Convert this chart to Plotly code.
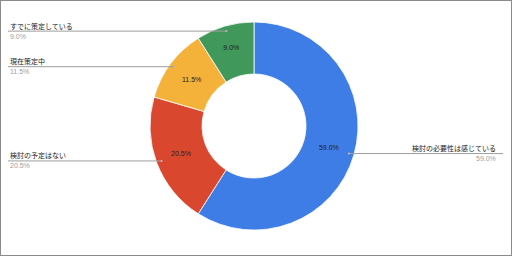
import math
import plotly.graph_objects as go

labels = ["検討の必要性は感じている", "検討の予定はない", "現在策定中", "すでに策定している"]
values = [59.0, 20.5, 11.5, 9.0]
colors = ["#3f7de6", "#d9472f", "#f4b23a", "#40985a"]

W, H = 512, 256
CX, CY, R = 254, 126, 104
FONT = "Liberation Sans, Arial, Noto Sans CJK JP"

fig = go.Figure(go.Pie(
    labels=labels, values=values, sort=False, direction="clockwise", rotation=0,
    hole=0.5, marker=dict(colors=colors, line=dict(color="white", width=0.8)),
    texttemplate="%{value:.1f}%", textposition="inside",
    insidetextorientation="horizontal",
    textfont=dict(family=FONT, size=7, color="#222222"),
    hoverinfo="label+percent", showlegend=False,
    domain=dict(x=[(CX - R) / W, (CX + R) / W], y=[(H - CY - R) / H, (H - CY + R) / H]),
))

def px(x):
    return x / W

def py(y):
    return 1 - y / H

shapes = []
annotations = []
total = sum(values)
cum = 0.0
for lab, v in zip(labels, values):
    mid = (cum + v / 2) / total * 2 * math.pi
    cum += v
    dx, dy = math.sin(mid), -math.cos(mid)
    x0, y0 = CX + 0.95 * R * dx, CY + 0.95 * R * dy
    if dx > 0:
        xa, xend, anchor = 498, 503, "right"
    else:
        xa, xend, anchor = 8, 8, "left"
    shapes.append(dict(type="line", xref="paper", yref="paper",
                       x0=px(x0), y0=py(y0), x1=px(xend), y1=py(y0),
                       line=dict(color="#9e9e9e", width=1)))
    shapes.append(dict(type="circle", xref="paper", yref="paper",
                       x0=px(x0 - 1), y0=py(y0 - 1), x1=px(x0 + 1), y1=py(y0 + 1),
                       line=dict(width=0), fillcolor="#bdbdbd"))
    annotations.append(dict(x=px(xa), y=py(y0 - 5), xref="paper", yref="paper",
                            text=lab, showarrow=False, xanchor=anchor, yanchor="middle",
                            font=dict(family=FONT, size=7, color="#222222")))
    annotations.append(dict(x=px(xa), y=py(y0 + 5), xref="paper", yref="paper",
                            text=f"{v:.1f}%", showarrow=False, xanchor=anchor, yanchor="middle",
                            font=dict(family=FONT, size=7, color="#9e9e9e")))

shapes.append(dict(type="rect", xref="paper", yref="paper", x0=0, y0=0, x1=1, y1=1,
                   line=dict(color="#8a8a8a", width=2)))

fig.update_layout(width=W, height=H, margin=dict(l=0, r=0, t=0, b=0),
                  paper_bgcolor="white", plot_bgcolor="white",
                  shapes=shapes, annotations=annotations)
fig.write_html("out.html")
